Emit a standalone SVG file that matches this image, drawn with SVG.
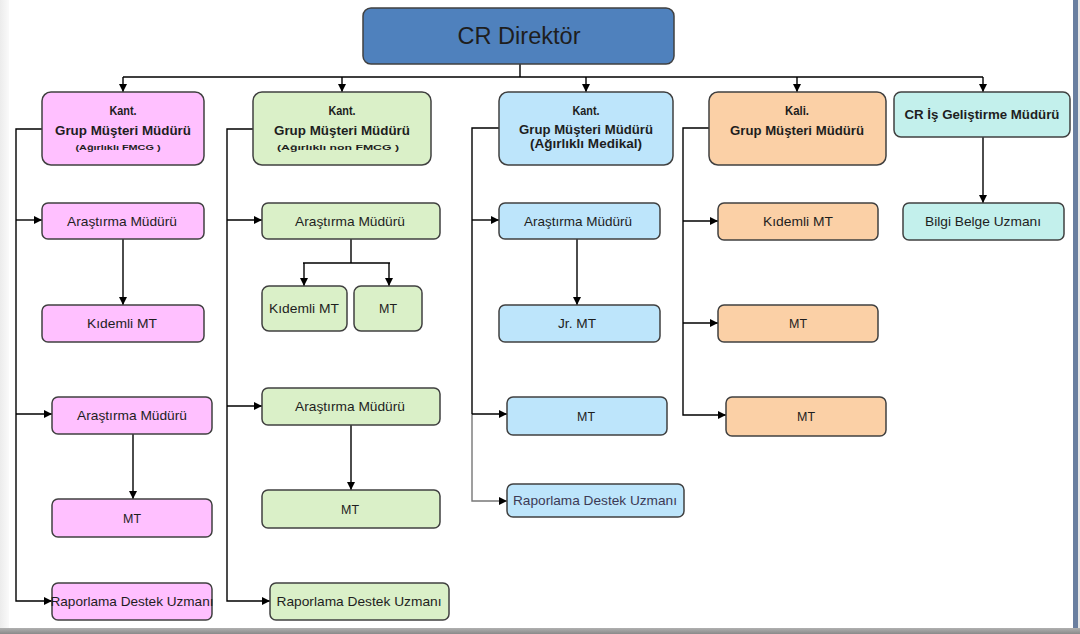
<svg xmlns="http://www.w3.org/2000/svg" width="1080" height="634" viewBox="0 0 1080 634">
<defs>
<marker id="ah" markerUnits="userSpaceOnUse" markerWidth="8" markerHeight="8" refX="8" refY="4" orient="auto"><path d="M0,0 L8,4 L0,8 z" fill="#000"/></marker>
<linearGradient id="lg" x1="0" x2="1" y1="0" y2="0"><stop offset="0" stop-color="#ececec"/><stop offset="1" stop-color="#fafafa"/></linearGradient>
<linearGradient id="bg" x1="0" x2="0" y1="0" y2="1"><stop offset="0" stop-color="#b0b0b0"/><stop offset="1" stop-color="#8a8a8a"/></linearGradient>
<style>
.n{stroke:#404040;stroke-width:1.5}
.d{fill:#4F81BD}.p{fill:#FFC0FF}.g{fill:#DAF0C8}.b{fill:#BDE5FB}.o{fill:#FBD0A6}.t{fill:#C3F0EC}
text{font-family:"Liberation Sans Narrow","Liberation Sans",Arial,sans-serif;fill:#1e1e1e;text-anchor:middle}
.s{font-size:13px}
.h{font-size:13px;font-weight:bold}
.m{font-size:8px;font-weight:bold}
.c{fill:none;stroke:#000;stroke-width:1.4}
.cl{fill:none;stroke:#777;stroke-width:1.4}
</style>
</defs>
<rect width="1080" height="634" fill="#fff"/>
<rect x="0" y="0" width="9" height="634" fill="url(#lg)"/>
<rect x="1073" y="0" width="5" height="634" fill="#6a7fa0"/>
<rect x="1078" y="0" width="2" height="634" fill="#e6e6e6"/>
<rect x="0" y="628" width="1080" height="6" fill="url(#bg)"/>

<g id="connectors">
<path class="c" d="M520,64 V77 M123,77 H983"/>
<path class="c" marker-end="url(#ah)" d="M123,77 V92"/>
<path class="c" marker-end="url(#ah)" d="M342,77 V92"/>
<path class="c" marker-end="url(#ah)" d="M586,77 V92"/>
<path class="c" marker-end="url(#ah)" d="M797,77 V92"/>
<path class="c" marker-end="url(#ah)" d="M983,77 V92"/>
<!-- pink -->
<path class="c" marker-end="url(#ah)" d="M42,129 H16 V601 H52"/>
<path class="c" marker-end="url(#ah)" d="M16,220 H42"/>
<path class="c" marker-end="url(#ah)" d="M16,414 H52"/>
<path class="c" marker-end="url(#ah)" d="M123,239 V305"/>
<path class="c" marker-end="url(#ah)" d="M133,434 V499"/>
<!-- green -->
<path class="c" marker-end="url(#ah)" d="M253,129 H227 V601 H270"/>
<path class="c" marker-end="url(#ah)" d="M227,220 H262"/>
<path class="c" marker-end="url(#ah)" d="M227,406 H262"/>
<path class="c" d="M351,239 V263 M303,263 H390"/>
<path class="c" marker-end="url(#ah)" d="M304,263 V286"/>
<path class="c" marker-end="url(#ah)" d="M389,263 V286"/>
<path class="c" marker-end="url(#ah)" d="M351,425 V490"/>
<!-- blue -->
<path class="c" d="M499,128 H472 V414"/>
<path class="cl" marker-end="url(#ah)" d="M472,414 V501 H507"/>
<path class="c" marker-end="url(#ah)" d="M472,220 H499"/>
<path class="c" marker-end="url(#ah)" d="M472,414 H507"/>
<path class="c" marker-end="url(#ah)" d="M577,239 V305"/>
<!-- orange -->
<path class="c" marker-end="url(#ah)" d="M709,128 H683 V415 H726"/>
<path class="c" marker-end="url(#ah)" d="M683,221 H718"/>
<path class="c" marker-end="url(#ah)" d="M683,323 H718"/>
<!-- teal -->
<path class="c" marker-end="url(#ah)" d="M983,137 V203"/>
</g>

<g id="n-director"><rect class="n d" x="363" y="8" width="311" height="56" rx="8"/><text x="519" y="44" font-size="23" textLength="123" lengthAdjust="spacingAndGlyphs">CR Direktör</text></g>

<g id="n-p0"><rect class="n p" x="42" y="92" width="162" height="73" rx="9"/>
<text class="h" x="123" y="114.5" textLength="27" lengthAdjust="spacingAndGlyphs">Kant.</text>
<text class="h" x="123" y="134.5" textLength="136" lengthAdjust="spacingAndGlyphs">Grup Müşteri Müdürü</text>
<text class="m" x="118" y="149.5" textLength="85" lengthAdjust="spacingAndGlyphs">(Ağırlıklı FMCG )</text></g>
<g id="n-p1"><rect class="n p" x="42" y="203" width="162" height="36" rx="6"/><text class="s" x="122" y="225.5" textLength="110" lengthAdjust="spacingAndGlyphs">Araştırma Müdürü</text></g>
<g id="n-p2"><rect class="n p" x="42" y="305" width="162" height="37" rx="6"/><text class="s" x="122" y="328" textLength="70" lengthAdjust="spacingAndGlyphs">Kıdemli MT</text></g>
<g id="n-p3"><rect class="n p" x="52" y="397" width="160" height="37" rx="6"/><text class="s" x="132" y="420" textLength="110" lengthAdjust="spacingAndGlyphs">Araştırma Müdürü</text></g>
<g id="n-p4"><rect class="n p" x="52" y="499" width="160" height="38" rx="6"/><text class="s" x="132" y="522.5" textLength="18" lengthAdjust="spacingAndGlyphs">MT</text></g>
<g id="n-p5"><rect class="n p" x="52" y="583" width="160" height="37" rx="6"/><text class="s" x="132" y="606" textLength="163" lengthAdjust="spacingAndGlyphs">Raporlama Destek Uzmanı</text></g>

<g id="n-g0"><rect class="n g" x="253" y="92" width="178" height="73" rx="9"/>
<text class="h" x="342" y="114.5" textLength="27" lengthAdjust="spacingAndGlyphs">Kant.</text>
<text class="h" x="342" y="134.5" textLength="136" lengthAdjust="spacingAndGlyphs">Grup Müşteri Müdürü</text>
<text class="m" x="338" y="149.5" textLength="122" lengthAdjust="spacingAndGlyphs">(Ağırlıklı non FMCG )</text></g>
<g id="n-g1"><rect class="n g" x="262" y="203" width="178" height="36" rx="6"/><text class="s" x="350" y="225.5" textLength="110" lengthAdjust="spacingAndGlyphs">Araştırma Müdürü</text></g>
<g id="n-g2"><rect class="n g" x="262" y="286" width="85" height="45" rx="7"/><text class="s" x="304" y="313" textLength="70" lengthAdjust="spacingAndGlyphs">Kıdemli MT</text></g>
<g id="n-g3"><rect class="n g" x="354" y="286" width="68" height="45" rx="7"/><text class="s" x="388" y="313" textLength="18" lengthAdjust="spacingAndGlyphs">MT</text></g>
<g id="n-g4"><rect class="n g" x="262" y="388" width="178" height="37" rx="6"/><text class="s" x="350" y="411" textLength="110" lengthAdjust="spacingAndGlyphs">Araştırma Müdürü</text></g>
<g id="n-g5"><rect class="n g" x="262" y="490" width="178" height="38" rx="6"/><text class="s" x="350" y="513.5" textLength="18" lengthAdjust="spacingAndGlyphs">MT</text></g>
<g id="n-g6"><rect class="n g" x="270" y="583" width="179" height="37" rx="6"/><text class="s" x="359" y="606" textLength="165" lengthAdjust="spacingAndGlyphs">Raporlama Destek Uzmanı</text></g>

<g id="n-b0"><rect class="n b" x="499" y="92" width="174" height="73" rx="9"/>
<text class="h" x="586" y="114.5" textLength="27" lengthAdjust="spacingAndGlyphs">Kant.</text>
<text class="h" x="586" y="133.5" textLength="134" lengthAdjust="spacingAndGlyphs">Grup Müşteri Müdürü</text>
<text class="h" x="586" y="148" textLength="112" lengthAdjust="spacingAndGlyphs" font-weight="normal">(Ağırlıklı Medikal)</text></g>
<g id="n-b1"><rect class="n b" x="499" y="203" width="161" height="36" rx="6"/><text class="s" x="578" y="225.5" textLength="108" lengthAdjust="spacingAndGlyphs">Araştırma Müdürü</text></g>
<g id="n-b2"><rect class="n b" x="499" y="305" width="161" height="37" rx="6"/><text class="s" x="577" y="328" textLength="38" lengthAdjust="spacingAndGlyphs">Jr. MT</text></g>
<g id="n-b3"><rect class="n b" x="507" y="397" width="160" height="38" rx="6"/><text class="s" x="586" y="420.5" textLength="18" lengthAdjust="spacingAndGlyphs">MT</text></g>
<g id="n-b4"><rect class="n b" x="507" y="484" width="177" height="33" rx="6"/><text class="s" x="595" y="505" textLength="164" lengthAdjust="spacingAndGlyphs" style="fill:#3c3a55">Raporlama Destek Uzmanı</text></g>

<g id="n-o0"><rect class="n o" x="709" y="92" width="177" height="73" rx="9"/>
<text class="h" x="797" y="114.5" textLength="24" lengthAdjust="spacingAndGlyphs">Kali.</text>
<text class="h" x="797" y="134.5" textLength="134" lengthAdjust="spacingAndGlyphs">Grup Müşteri Müdürü</text></g>
<g id="n-o1"><rect class="n o" x="718" y="203" width="160" height="37" rx="6"/><text class="s" x="798" y="226" textLength="70" lengthAdjust="spacingAndGlyphs">Kıdemli MT</text></g>
<g id="n-o2"><rect class="n o" x="718" y="305" width="160" height="37" rx="6"/><text class="s" x="798" y="328" textLength="18" lengthAdjust="spacingAndGlyphs">MT</text></g>
<g id="n-o3"><rect class="n o" x="726" y="397" width="160" height="39" rx="6"/><text class="s" x="806" y="421" textLength="18" lengthAdjust="spacingAndGlyphs">MT</text></g>

<g id="n-t0"><rect class="n t" x="894" y="92" width="176" height="45" rx="7"/>
<text class="h" x="982" y="119" textLength="155" lengthAdjust="spacingAndGlyphs">CR İş Geliştirme Müdürü</text></g>
<g id="n-t1"><rect class="n t" x="903" y="203" width="161" height="37" rx="6"/><text class="s" x="983" y="226" textLength="116" lengthAdjust="spacingAndGlyphs">Bilgi Belge Uzmanı</text></g>
</svg>
